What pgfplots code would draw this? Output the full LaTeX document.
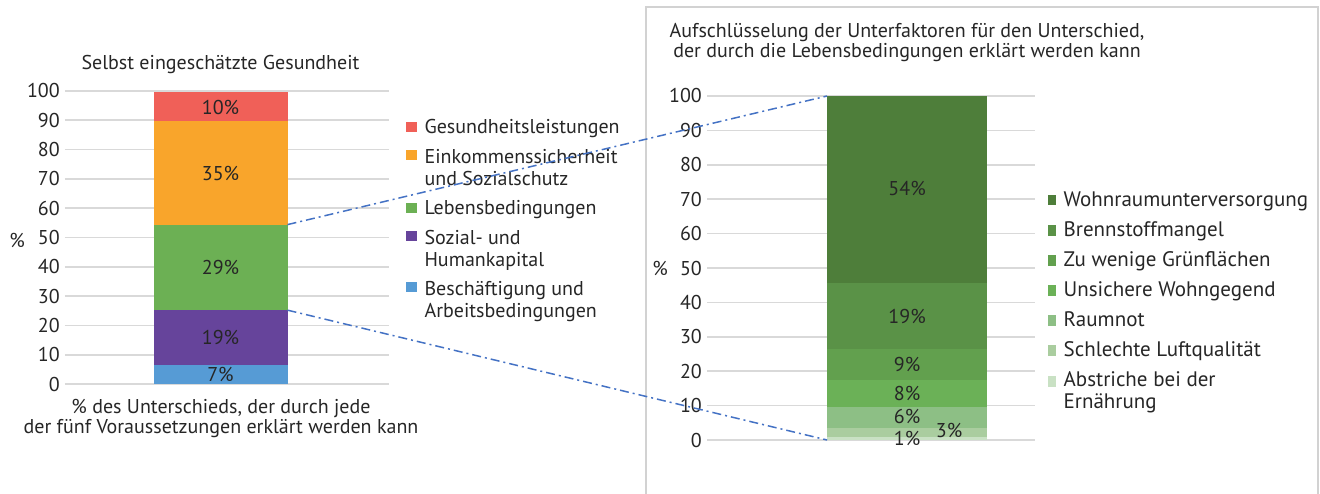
\documentclass[border=0pt]{standalone}
\usepackage{pgfplots}
\pgfplotsset{compat=1.18}
\usepackage{fontspec}
\setmainfont{PT Sans}

\definecolor{txt}{RGB}{38,38,38}
\definecolor{gridc}{RGB}{217,217,217}
\definecolor{boxc}{RGB}{210,210,210}
\definecolor{linkc}{RGB}{68,114,196}
% left bar
\definecolor{cRed}{RGB}{240,96,88}
\definecolor{cOrange}{RGB}{249,165,43}
\definecolor{cGreen}{RGB}{108,176,84}
\definecolor{cPurple}{RGB}{102,68,155}
\definecolor{cBlue}{RGB}{86,155,213}
% right bar
\definecolor{gA}{RGB}{78,126,58}
\definecolor{gB}{RGB}{90,146,71}
\definecolor{gC}{RGB}{98,160,78}
\definecolor{gD}{RGB}{107,177,87}
\definecolor{gE}{RGB}{141,191,133}
\definecolor{gF}{RGB}{170,205,159}
\definecolor{gG}{RGB}{201,225,196}

\newcommand{\fs}{\fontsize{20}{20}\selectfont}

\pgfplotsset{
  stackbar/.style={
    scale only axis, ybar stacked, clip=false,
    xmin=0, xmax=1, ymin=0, ymax=100, enlargelimits=false,
    xtick=\empty, ytick={0,10,...,100},
    ymajorgrids, grid style={gridc, line width=1.6pt},
    axis line style={draw=none}, major tick length=0pt,
    tick label style={font=\fs, text=txt},
    yticklabel style={inner xsep=0pt, xshift=-5pt},
    /pgf/number format/assume math mode=true,
    legend style={draw=none, fill=none,
      text=txt, anchor=north west, inner sep=0pt,
      nodes={inner sep=0pt},
      cells={anchor=base west, align=left},
      /tikz/every odd column/.append style={column sep=8pt}},
  },
  % legend squares; the "2" variants sit on the first of two text lines
  sqL/.style={legend image code/.code={\fill[##1] (0pt,2pt) rectangle (10.5pt,12pt);}},
  sqL2/.style={legend image code/.code={\fill[##1] (0pt,25.5pt) rectangle (10.5pt,35.5pt);}},
  sqR/.style={legend image code/.code={\fill[##1] (0pt,0.7pt) rectangle (8pt,11.3pt);}},
  sqR2/.style={legend image code/.code={\fill[##1] (0pt,22.2pt) rectangle (8pt,32.8pt);}},
}

\begin{document}
\begin{tikzpicture}[x=1pt,y=1pt]
\useasboundingbox (0,0) rectangle (1320,-494);

% frame of the right panel
\draw[boxc, line width=1.5pt] (646,-494) -- (646,-7) -- (1318,-7) -- (1318,-494);

% ---- left: self-rated health
\begin{axis}[stackbar,
  at={(65pt,-384pt)}, anchor=south west,
  width=324pt, height=293pt,
  bar width=134pt,
  legend style={at={(1.052,0.907)}, font=\fontsize{20}{22}\selectfont, row sep=12.5pt},
]
\addlegendimage{fill=cRed, draw=none, sqL}
\addlegendentry{\strut Gesundheitsleistungen}
\addlegendimage{fill=cOrange, draw=none, sqL2}
\addlegendentry{\strut Einkommenssicherheit\\\strut und Sozialschutz}
\addlegendimage{fill=cGreen, draw=none, sqL}
\addlegendentry{\strut Lebensbedingungen}
\addlegendimage{fill=cPurple, draw=none, sqL2}
\addlegendentry{\strut Sozial- und\\\strut Humankapital}
\addlegendimage{fill=cBlue, draw=none, sqL2}
\addlegendentry{\strut Beschäftigung und\\\strut Arbeitsbedingungen}

\addplot[fill=cBlue, draw=none, forget plot] coordinates {(0.48,6.6)};
\addplot[fill=cPurple, draw=none, forget plot] coordinates {(0.48,18.6)};
\addplot[fill=cGreen, draw=none, forget plot] coordinates {(0.48,29.2)};
\addplot[fill=cOrange, draw=none, forget plot] coordinates {(0.48,35.2)};
\addplot[fill=cRed, draw=none, forget plot] coordinates {(0.48,9.9)};

\coordinate (a1) at (axis cs:0.48,3.3);
\coordinate (a2) at (axis cs:0.48,15.9);
\coordinate (a3) at (axis cs:0.48,39.8);
\coordinate (a4) at (axis cs:0.48,72.0);
\coordinate (a5) at (axis cs:0.48,94.5);
\coordinate (Lt) at (axis cs:0.48,54.4);
\coordinate (Lb) at (axis cs:0.48,25.2);
\end{axis}

% ---- right: living conditions breakdown
\begin{axis}[stackbar,
  at={(707pt,-440pt)}, anchor=south west,
  width=328pt, height=344pt,
  bar width=160pt,
  legend style={at={(1.038,0.723)}, font=\fontsize{21}{21}\selectfont, row sep=13.7pt},
]
\addlegendimage{fill=gA, draw=none, sqR}
\addlegendentry{\strut Wohnraumunterversorgung}
\addlegendimage{fill=gB, draw=none, sqR}
\addlegendentry{\strut Brennstoffmangel}
\addlegendimage{fill=gC, draw=none, sqR}
\addlegendentry{\strut Zu wenige Grünflächen}
\addlegendimage{fill=gD, draw=none, sqR}
\addlegendentry{\strut Unsichere Wohngegend}
\addlegendimage{fill=gE, draw=none, sqR}
\addlegendentry{\strut Raumnot}
\addlegendimage{fill=gF, draw=none, sqR}
\addlegendentry{\strut Schlechte Luftqualität}
\addlegendimage{fill=gG, draw=none, sqR2}
\addlegendentry{\strut Abstriche bei der\\\strut Ernährung}

\addplot[fill=gG, draw=none, forget plot] coordinates {(0.61,0.9)};
\addplot[fill=gF, draw=none, forget plot] coordinates {(0.61,2.6)};
\addplot[fill=gE, draw=none, forget plot] coordinates {(0.61,6.2)};
\addplot[fill=gD, draw=none, forget plot] coordinates {(0.61,7.8)};
\addplot[fill=gC, draw=none, forget plot] coordinates {(0.61,8.9)};
\addplot[fill=gB, draw=none, forget plot] coordinates {(0.61,19.2)};
\addplot[fill=gA, draw=none, forget plot] coordinates {(0.61,54.4)};

\coordinate (b1) at (axis cs:0.61,0.4);
\coordinate (b2) at (axis cs:0.738,2.9);
\coordinate (b3) at (axis cs:0.61,6.8);
\coordinate (b4) at (axis cs:0.61,13.6);
\coordinate (b5) at (axis cs:0.61,22.0);
\coordinate (b6) at (axis cs:0.61,36.0);
\coordinate (b7) at (axis cs:0.61,73.2);
\coordinate (Rt) at (axis cs:0.61,100);
\coordinate (Rb) at (axis cs:0.61,0);
\end{axis}

% value labels
\begin{scope}[every node/.style={font=\fs, text=txt}]
\node at (a1) {7\%};
\node at (a2) {19\%};
\node at (a3) {29\%};
\node at (a4) {35\%};
\node at (a5) {10\%};
\node at (b1) {1\%};
\node at (b2) {3\%};
\node at (b3) {6\%};
\node at (b4) {8\%};
\node at (b5) {9\%};
\node at (b6) {19\%};
\node at (b7) {54\%};

% titles and axis texts
\node at (220.5,-65) {Selbst eingeschätzte Gesundheit};
\node[align=center] at (221,-418) {\% des Unterschieds, der durch jede\\der fünf Voraussetzungen erklärt werden kann};
\node at (17,-240) {\%};
\node[align=center] at (907,-43) {Aufschlüsselung der Unterfaktoren für den Unterschied,\\der durch die Lebensbedingungen erklärt werden kann};
\node at (660,-268) {\%};
\end{scope}

% connector lines (bar edges: half bar widths 67pt and 80pt)
\draw[linkc, line width=1.5pt, dash pattern=on 9pt off 4pt on 2pt off 4pt]
  ([xshift=67pt]Lt) -- ([xshift=-80pt]Rt);
\draw[linkc, line width=1.5pt, dash pattern=on 9pt off 4pt on 2pt off 4pt]
  ([xshift=67pt]Lb) -- ([xshift=-80pt]Rb);
\end{tikzpicture}
\end{document}
